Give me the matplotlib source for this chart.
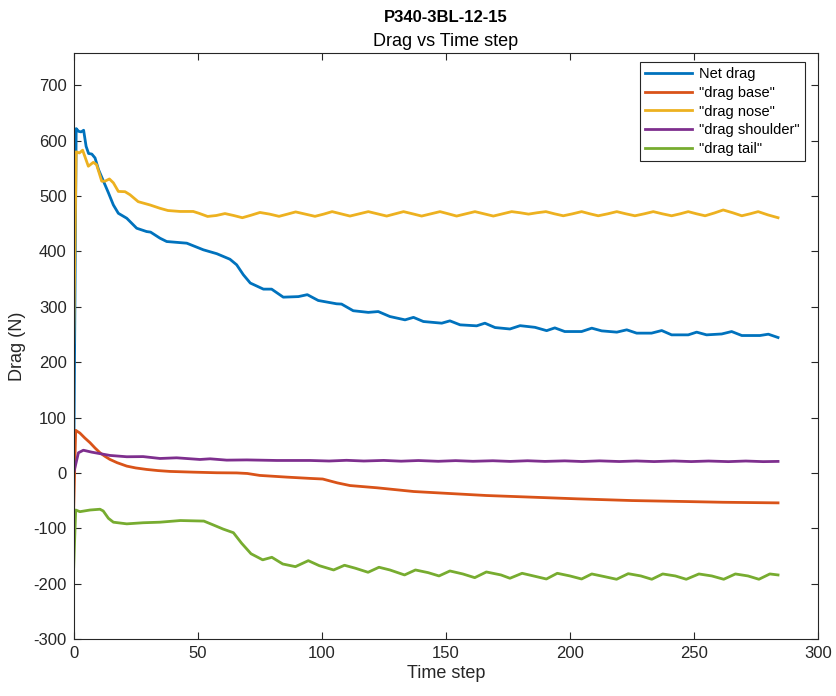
import matplotlib
matplotlib.use("Agg")
import matplotlib.pyplot as plt

plt.rcParams['font.family'] = ['Liberation Sans', 'DejaVu Sans']
plt.rcParams['axes.unicode_minus'] = False

# ---- data -------------------------------------------------------------
net_t = [0, 1, 2, 3, 4, 5, 6, 7.3, 8.6, 10, 12, 14, 16, 18, 21.4, 25.4, 29.4,
         31, 34.8, 37.5, 45.6, 52.3, 57.7, 63, 65.7, 68.4, 71.2, 76.5, 79.8,
         84.5, 90.6, 94.2, 98.6, 106, 108, 112.7, 118.8, 122.8, 127.5, 133.6,
         137, 141, 148.4, 151.7, 155.8, 162.5, 165.8, 169.9, 175.9, 180, 186,
         190.7, 194, 198, 204.8, 208.9, 212.9, 219, 223, 227, 233, 237.1,
         241.1, 247.8, 251.2, 255.2, 261.3, 265.3, 269.4, 276.7, 280.1, 284]
net_drag = [0, 622, 617, 616, 619, 590, 577, 576, 569, 548, 527, 506, 484, 469,
            460, 442, 436, 435, 424, 418, 415, 403, 396, 386, 376, 358, 343,
            332, 332, 317.5, 318.5, 322, 311.5, 305.5, 305, 293, 290, 291.5,
            282.5, 276.5, 281, 273.5, 270.5, 274.7, 267.5, 265.7, 270.5, 262.6,
            260, 266, 263, 257, 262, 255.4, 255.4, 261.5, 256.6, 254.3, 258.5,
            252.5, 252.5, 257.2, 249.4, 249.4, 254.3, 249.4, 251, 255.4, 248.2,
            248.2, 250.6, 244.6]

base_t = [0, 0.8, 2.5, 4.5, 6.6, 8.6, 10.6, 12.6, 14.6, 17.5, 21.4, 25, 29.4,
          34, 38.8, 48.2, 57.7, 65.7, 70, 75, 86, 95.3, 100.4, 106.3, 111.4,
          122.4, 137.1, 151.7, 166.4, 181.1, 203, 225, 247, 261.7, 284]
drag_base = [-63, 77, 72, 63, 54.5, 45, 36.4, 30, 24.4, 18.5, 12.3, 9, 6.3,
             4.2, 2.7, 1.4, 0.3, 0, -1, -4.5, -7.6, -9.9, -11, -18, -22.8,
             -26.9, -33.6, -37.2, -40.8, -43.2, -46.8, -49.9, -51.7, -53, -54.1]

nose_t = [0, 1, 2.3, 3.6, 5.9, 7.9, 9.2, 11.3, 12.6, 14.4, 16, 18, 20.7, 22.7,
          26, 30.8, 34.8, 38, 42.9, 48.2, 50.5, 54, 57.5, 61, 64.5, 68, 71.5,
          75.1, 79, 82.8, 86.2, 89.5, 93.4, 97.3, 100.8, 104.2, 107.8, 111.4,
          115.1, 118.8, 122.5, 126.2, 129.6, 133, 136.7, 140.3, 144, 147.7,
          151.1, 154.4, 158.1, 161.8, 165.5, 169.2, 172.9, 176.6, 180, 183.4,
          186.9, 190.4, 193.9, 197.4, 201.1, 204.8, 208.2, 211.5, 215.3, 219,
          222.7, 226.3, 230, 233.7, 237.4, 241.1, 244.5, 247.8, 251.2, 254.6,
          258.3, 261.9, 265.7, 269.4, 272.7, 276, 280, 284]
drag_nose = [235, 580, 578, 583, 554, 561, 557, 527, 527, 531, 524, 508.5, 508,
             502.5, 490, 484, 478, 474, 472.3, 472.3, 469, 463.3, 465, 468.5,
             465, 461, 465.5, 470.5, 467.5, 463.5, 467.5, 471.5, 467.5, 463.5,
             467.5, 472, 468, 464, 468, 472, 468, 464, 468, 472, 468, 464, 468,
             472, 468, 464, 468, 472, 468, 464, 468, 472, 470, 467.5, 470, 472,
             468, 464.5, 468, 472, 468, 464.5, 468, 472, 468, 464.5, 468, 472,
             468, 464.5, 468, 472, 468, 464.5, 469.5, 475, 470, 464.5, 468,
             472, 466, 461]

shoulder_t = [0, 1.9, 3.9, 7.3, 14.6, 21.4, 28, 34.8, 41.5, 50.9, 55, 61.7,
              69.8, 81.9, 95.3, 103, 110, 117, 125, 132, 139, 147, 154, 161,
              169, 176, 183, 190, 198, 205, 212, 220, 227, 234, 242, 249, 256,
              264, 271, 278, 284]
drag_shoulder = [0, 36.4, 41, 37.5, 31.6, 29.2, 29.5, 26.1, 27.3, 24.3, 25.5,
                 23.1, 23.5, 22.5, 22.5, 21.5, 22.8, 21.5, 22.6, 21.2, 22.4,
                 21, 22.2, 21, 22, 20.8, 22, 20.8, 21.8, 20.6, 21.8, 20.6, 21.6,
                 20.5, 21.6, 20.5, 21.5, 20.4, 21.5, 20.4, 20.8]

tail_t = [0, 0.8, 2.5, 6.6, 10.6, 11.9, 14, 16, 21.4, 28, 34.8, 43, 52.5, 56.3,
          60.3, 64.4, 67.7, 71.5, 76.2, 79.9, 84.3, 89.4, 94.6, 99, 104.8,
          109.2, 113.6, 118.7, 123.1, 127.5, 133.4, 137.8, 142.9, 147.3, 151.7,
          156.9, 161.7, 166.4, 172.3, 175.9, 180.8, 185.4, 190.6, 195, 200.1,
          204.8, 208.9, 214, 218.9, 223.6, 228.7, 233.1, 237.5, 242.6, 247,
          252.1, 257.3, 262.1, 266.8, 271.9, 276.3, 280.7, 284]
drag_tail = [-170, -67, -70, -67, -65.6, -68.7, -82, -89, -92, -90, -89, -86,
             -87, -94, -101.5, -108, -127, -146, -157, -152.4, -164.5, -169.3,
             -158.5, -167.5, -175.3, -166.8, -172.2, -179.5, -170.4, -175.3,
             -184.3, -175.3, -180.1, -186.1, -177.1, -182.5, -189.2, -178.9,
             -184.3, -190.3, -181.3, -186.1, -191.6, -181.3, -186.1, -191.6,
             -182.5, -187.3, -192.1, -182, -186.1, -192.1, -182.5, -186.1,
             -192.1, -182.5, -186.1, -192.1, -182.5, -186.1, -192.1, -182.5,
             -184.3]

series = [
    (net_t, net_drag, 'Net drag', '#0072BD'),
    (base_t, drag_base, '"drag base"', '#D95319'),
    (nose_t, drag_nose, '"drag nose"', '#EDB120'),
    (shoulder_t, drag_shoulder, '"drag shoulder"', '#7E2F8E'),
    (tail_t, drag_tail, '"drag tail"', '#77AC30'),
]

x_ticks = [0, 50, 100, 150, 200, 250, 300]
y_ticks = [-300, -200, -100, 0, 100, 200, 300, 400, 500, 600, 700]

# ---- figure -----------------------------------------------------------
W, H = 837, 696
fig = plt.figure(figsize=(W / 100, H / 100), dpi=100)
ax = fig.add_axes([73.7 / W, 57 / H, 744 / W, 585.7 / H])

for t, v, label, color in series:
    ax.plot(t, v, color=color, linewidth=2.0, label=label)

ax.set_xlim(0, 300)
ax.set_ylim(-300, 758)
ax.set_xticks(x_ticks)
ax.set_yticks(y_ticks)

axis_color = '#262626'
for sp in ax.spines.values():
    sp.set_color(axis_color)
    sp.set_linewidth(0.8)
ax.tick_params(direction='in', length=5, width=0.8, colors=axis_color,
               labelsize=12, top=True, right=True, pad=5)

ax.set_xlabel('Time step', fontsize=13, color=axis_color, labelpad=3)
ax.set_ylabel('Drag (N)', fontsize=13, color=axis_color, labelpad=5)

fig.text(445.7 / W, 1 - 17 / H, 'P340-3BL-12-15', ha='center', va='center',
         fontsize=12, fontweight='bold', color='black')
fig.text(445.7 / W, 1 - 41 / H, 'Drag vs Time step', ha='center', va='center',
         fontsize=13, color='black')

leg = ax.legend(loc='upper right', bbox_to_anchor=(0.983, 0.985),
                borderaxespad=0, fontsize=10.5, handlelength=3.2,
                handletextpad=0.5, labelspacing=0.32, borderpad=0.35,
                fancybox=False, framealpha=1, edgecolor=axis_color)
leg.get_frame().set_linewidth(0.8)

fig.savefig('out.png', dpi=100, facecolor='white')
